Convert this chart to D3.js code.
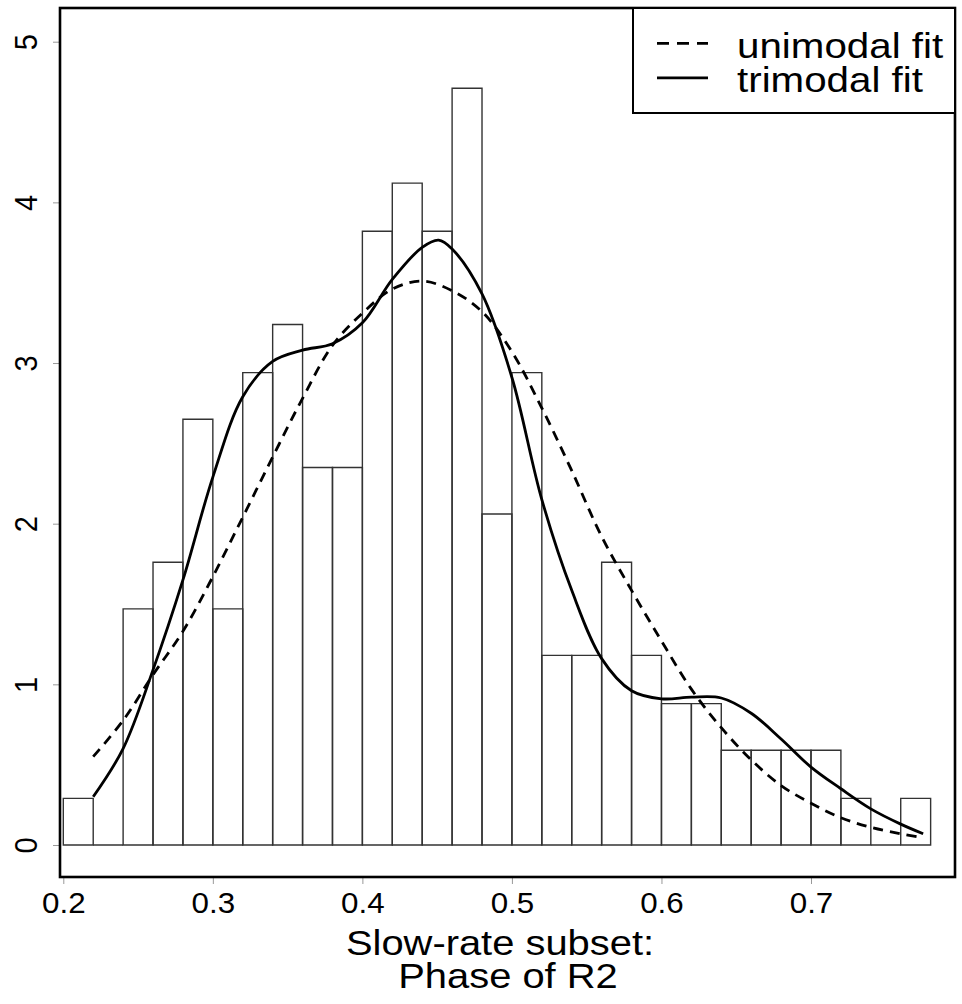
<!DOCTYPE html>
<html><head><meta charset="utf-8">
<script src="https://cdn.jsdelivr.net/npm/d3@7"></script>
<style>html,body{margin:0;padding:0;background:#fff}svg{display:block}</style>
</head><body><svg id="c" width="962" height="1004"></svg>
<script>
// ---- data ----
const binStarts = [0.20,0.22,0.24,0.26,0.28,0.30,0.32,0.34,0.36,0.38,0.40,0.42,0.44,0.46,0.48,0.50,0.52,0.54,0.56,0.58,0.60,0.62,0.64,0.66,0.68,0.70,0.72,0.74,0.76];
const binWidth = 0.02;
const density = [0.29,0,1.47,1.76,2.65,1.47,2.94,3.24,2.35,2.35,3.82,4.12,3.82,4.71,2.06,2.94,1.18,1.18,1.76,1.18,0.88,0.88,0.59,0.59,0.59,0.59,0.29,0,0.29];
const unimodalX = [0.22,0.24,0.26,0.28,0.30,0.32,0.34,0.36,0.38,0.40,0.42,0.44,0.46,0.48,0.50,0.52,0.54,0.56,0.58,0.60,0.62,0.64,0.66,0.68,0.70,0.72,0.74,0.76,0.775];
const unimodalY = [0.55,0.775,1.06,1.33,1.67,2.04,2.415,2.78,3.11,3.31,3.46,3.51,3.45,3.32,3.07,2.72,2.33,1.92,1.585,1.27,0.97,0.73,0.53,0.37,0.26,0.17,0.11,0.07,0.045];
const trimodalX = [0.22,0.24,0.26,0.28,0.30,0.32,0.34,0.36,0.38,0.40,0.42,0.44,0.451,0.46,0.48,0.50,0.52,0.54,0.56,0.58,0.60,0.62,0.64,0.66,0.68,0.70,0.72,0.74,0.76,0.775];
const trimodalY = [0.30,0.60,1.09,1.65,2.29,2.79,3.01,3.08,3.12,3.25,3.52,3.72,3.765,3.71,3.43,2.91,2.15,1.585,1.16,0.96,0.91,0.92,0.915,0.82,0.66,0.485,0.35,0.225,0.13,0.07];
const xTicks = [0.2,0.3,0.4,0.5,0.6,0.7];
const yTicks = [0,1,2,3,4,5];
const legendLabels = ["unimodal fit","trimodal fit"];
const xTitleLines = ["Slow-rate subset:","Phase of R2"];

// ---- layout ----
const box = {x0:60, y0:8, x1:955, y1:877};
const svg = d3.select("#c");
const FONT = "'Liberation Sans', Arial, Helvetica, sans-serif";
const SX = 1.1; // horizontal stretch of glyphs seen in the reference

const x = d3.scaleLinear().domain([0.2,0.7]).range([63.3,811]);
const y = d3.scaleLinear().domain([0,5]).range([845,41.7]);

function addText(g, tx, ty, txt, size, sx, anchor, rot){
  return g.append("text")
    .attr("transform", `translate(${tx},${ty}) scale(${sx},1)` + (rot ? ` rotate(${rot})` : ""))
    .attr("text-anchor", anchor).attr("font-family", FONT).attr("font-size", size)
    .attr("fill", "#000").text(txt);
}

// bars (paths so that empty bins still show along the baseline)
svg.append("g").selectAll("path").data(binStarts).join("path")
  .attr("d", (d,i) => {
    const p = d3.path();
    const x0 = x(d), x1 = x(d+binWidth), yb = y(0), yt = y(density[i]);
    p.moveTo(x0,yb); p.lineTo(x0,yt); p.lineTo(x1,yt); p.lineTo(x1,yb); p.closePath();
    return p.toString();
  })
  .attr("fill","none").attr("stroke","#333").attr("stroke-width",1.4);

// curves
const line = d3.line().x(d=>x(d[0])).y(d=>y(d[1])).curve(d3.curveCatmullRom.alpha(0.5));
svg.append("path").datum(unimodalX.map((v,i)=>[v,unimodalY[i]]))
  .attr("d", line).attr("fill","none").attr("stroke","#000")
  .attr("stroke-width",2.8).attr("stroke-dasharray","10,7");
svg.append("path").datum(trimodalX.map((v,i)=>[v,trimodalY[i]]))
  .attr("d", line).attr("fill","none").attr("stroke","#000")
  .attr("stroke-width",2.8);

// axes (ticks from d3 axes, labels restyled)
const xAxis = svg.append("g").attr("transform",`translate(0,${box.y1})`)
  .call(d3.axisBottom(x).tickValues(xTicks).tickSize(7).tickFormat(d3.format(".1f")));
xAxis.select(".domain").remove();
xAxis.selectAll(".tick line").attr("stroke","#999").attr("stroke-width",1);
xAxis.selectAll(".tick").each(function(d){
  const t = d3.select(this);
  t.select("text").remove();
  addText(t, 0, 36, d3.format(".1f")(d), 29, 1.08, "middle");
});

const yAxis = svg.append("g").attr("transform",`translate(${box.x0},0)`)
  .call(d3.axisLeft(y).tickValues(yTicks).tickSize(7).tickFormat(d3.format("d")));
yAxis.select(".domain").remove();
yAxis.selectAll(".tick line").attr("stroke","#999").attr("stroke-width",1);
yAxis.selectAll(".tick").each(function(d){
  const t = d3.select(this);
  t.select("text").remove();
  addText(t, -23.5, 0, d3.format("d")(d), 29, SX, "middle", -90);
});

// box
svg.append("rect").attr("x",box.x0).attr("y",box.y0)
  .attr("width",box.x1-box.x0).attr("height",box.y1-box.y0)
  .attr("fill","none").attr("stroke","#000").attr("stroke-width",2.6);

// x title
const titleX = [500, 508];
const titleY = [955, 988];
xTitleLines.forEach((t,i)=>{ addText(svg, titleX[i], titleY[i], t, 35, 1.14, "middle"); });

// legend
const lg = svg.append("g");
lg.append("rect").attr("x",633).attr("y",box.y0).attr("width",box.x1-633).attr("height",113-box.y0)
  .attr("fill","#fff").attr("stroke","#000").attr("stroke-width",2);
legendLabels.forEach((t,i)=>{
  const ly = 43.3 + i*34.5;
  lg.append("line").attr("x1",657).attr("x2",708).attr("y1",ly).attr("y2",ly)
    .attr("stroke","#000").attr("stroke-width",2.8)
    .attr("stroke-dasharray", i===0 ? "12,8" : null);
  addText(lg, 737, ly+14.2, t, 36, 1.12, "start");
});
</script></body></html>
